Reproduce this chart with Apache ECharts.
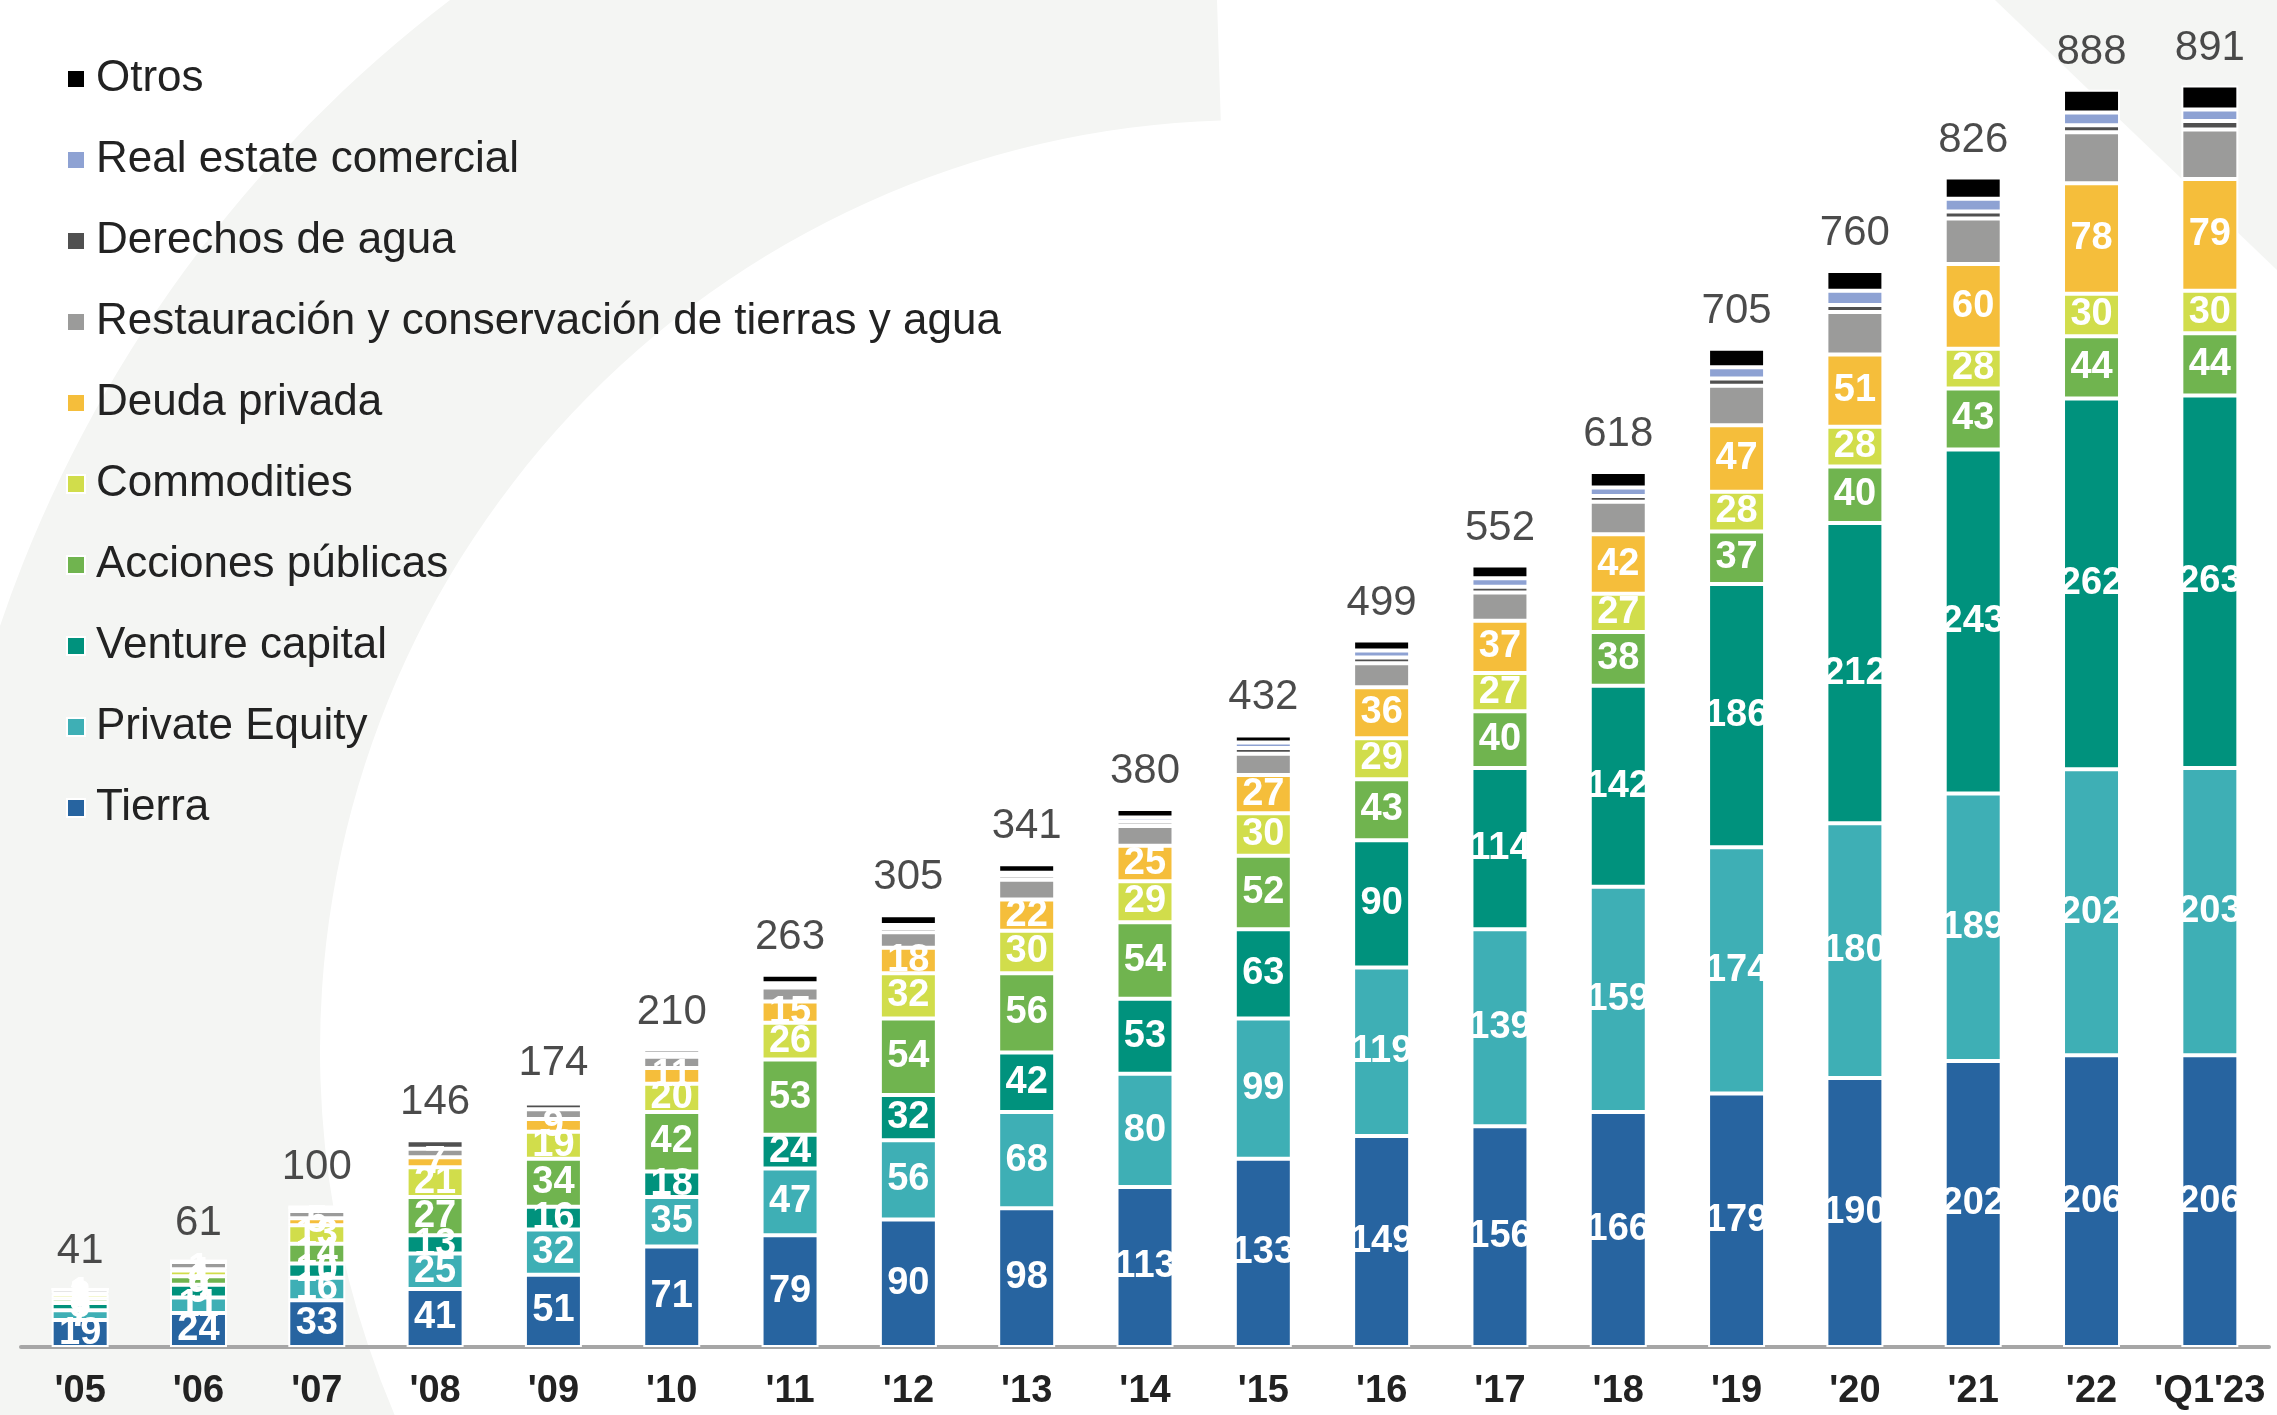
<!DOCTYPE html>
<html>
<head>
<meta charset="utf-8">
<script src="https://cdn.jsdelivr.net/npm/echarts@6/dist/echarts.min.js"></script>
<style>
html, body { margin: 0; padding: 0; background: #fff; }
#chart { width: 2277px; height: 1415px; }
</style>
</head>
<body>
<div id="chart"></div>
<script>
// años / categorías
var categories = ["'05", "'06", "'07", "'08", "'09", "'10", "'11", "'12", "'13", "'14", "'15", "'16", "'17", "'18", "'19", "'20", "'21", "'22", "'Q1'23"];

var tierra        = [19, 24, 33, 41, 51, 71, 79, 90, 98, 113, 133, 149, 156, 166, 179, 190, 202, 206, 206];
var privateEquity = [7, 11, 16, 25, 32, 35, 47, 56, 68, 80, 99, 119, 139, 159, 174, 180, 189, 202, 203];
var ventureCap    = [5, 9, 10, 13, 16, 18, 24, 32, 42, 53, 63, 90, 114, 142, 186, 212, 243, 262, 263];
var acciones      = [3, 6, 14, 27, 34, 42, 53, 54, 56, 54, 52, 43, 40, 38, 37, 40, 43, 44, 44];
var commodities   = [3, 4, 13, 21, 19, 20, 26, 32, 30, 29, 30, 29, 27, 27, 28, 28, 28, 30, 30];
var deuda         = [1, 1, 5, 7, 9, 11, 15, 18, 22, 25, 27, 36, 37, 42, 47, 51, 60, 78, 79];
var restauracion  = [3, 5, 5, 6, 7, 8, 10, 11, 14, 14, 15, 17, 20, 23, 28, 30, 32, 36, 35];
var derechos      = [0, 1, 2, 6, 4, 2, 2, 3, 3, 3, 4, 4, 4, 4, 5, 5, 5, 5, 6];
var realEstate    = [0, 0, 0, 0, 1, 0, 1, 2, 2, 3, 4, 5, 6, 6, 8, 10, 9, 9, 8];
var otros         = [0, 0, 2, 0, 1, 3, 6, 7, 6, 6, 5, 7, 9, 11, 13, 14, 15, 16, 17];
var totales       = [41, 61, 100, 146, 174, 210, 263, 305, 341, 380, 432, 499, 552, 618, 705, 760, 826, 888, 891];

// orden de apilado (abajo -> arriba)
var capas = [
    {name: 'Tierra', data: tierra, color: '#2764a0', label: true},
    {name: 'Private Equity', data: privateEquity, color: '#3eafb5', label: true},
    {name: 'Venture capital', data: ventureCap, color: '#00927d', label: true},
    {name: 'Acciones públicas', data: acciones, color: '#70b44f', label: true},
    {name: 'Commodities', data: commodities, color: '#d1dd4b', label: true},
    {name: 'Deuda privada', data: deuda, color: '#f5be3b', label: true},
    {name: 'Restauración y conservación de tierras y agua', data: restauracion, color: '#9b9b9a', label: false},
    {name: 'Derechos de agua', data: derechos, color: '#505050', label: false},
    {name: 'Real estate comercial', data: realEstate, color: '#8ea2d3', label: false},
    {name: 'Otros', data: otros, color: '#000000', label: false}
];

var series = [];
capas.forEach(function (c) {
    series.push({
        name: c.name,
        type: 'bar',
        stack: 'total',
        barWidth: 57,
        data: c.data,
        itemStyle: {color: c.color, borderColor: '#ffffff', borderWidth: 2},
        label: {
            show: c.label,
            position: 'inside',
            color: '#ffffff',
            fontFamily: '"Liberation Sans Narrow", "Liberation Sans", sans-serif',
            fontWeight: 'bold',
            fontSize: 38,
            formatter: function (p) { return p.value > 0 ? p.value : ''; }
        }
    });
});

series.push({
    name: 'total',
    type: 'scatter',
    data: totales,
    symbolSize: 1,
    itemStyle: {color: 'rgba(0,0,0,0)'},
    silent: true,
    label: {
        show: true,
        position: 'top',
        distance: 16,
        color: '#1e1e1e',
        fontFamily: '"Liberation Sans Narrow", "Liberation Sans", sans-serif',
        fontSize: 42
    }
});

var legendNames = capas.map(function (c) { return c.name; }).reverse();

var chart = echarts.init(document.getElementById('chart'));
chart.setOption({
    animation: false,
    backgroundColor: '#ffffff',
    graphic: [
        {
            type: 'sector', z: -10, silent: true,
            shape: {cx: 1250, cy: 1050, r0: 930, r: 1320, startAngle: Math.PI * 0.62, endAngle: Math.PI * 1.49},
            style: {fill: '#f4f5f3'}
        },
        {
            type: 'polygon', z: -10, silent: true,
            shape: {points: [[1995, 0], [2277, 0], [2277, 270]]},
            style: {fill: '#f4f5f3'}
        }
    ],
    legend: {
        data: legendNames,
        orient: 'vertical',
        left: 61,
        top: 52,
        icon: 'rect',
        itemWidth: 18,
        itemHeight: 18,
        itemGap: 37,
        selectedMode: false,
        textStyle: {
            fontFamily: '"Liberation Sans", Arial, sans-serif',
            fontSize: 44,
            lineHeight: 44,
            color: '#222222',
            padding: [0, 0, 0, 6]
        }
    },
    grid: {left: 21, right: 8, top: 2, bottom: 68},
    xAxis: {
        type: 'category',
        data: categories,
        axisTick: {show: false},
        axisLine: {lineStyle: {color: '#a6a6a6', width: 4}},
        axisLabel: {
            interval: 0,
            margin: 26,
            color: '#222222',
            fontFamily: '"Liberation Sans Narrow", "Liberation Sans", sans-serif',
            fontWeight: 'bold',
            fontSize: 38
        }
    },
    yAxis: {type: 'value', show: false, min: 0, max: 950},
    series: series
});
</script>
</body>
</html>
